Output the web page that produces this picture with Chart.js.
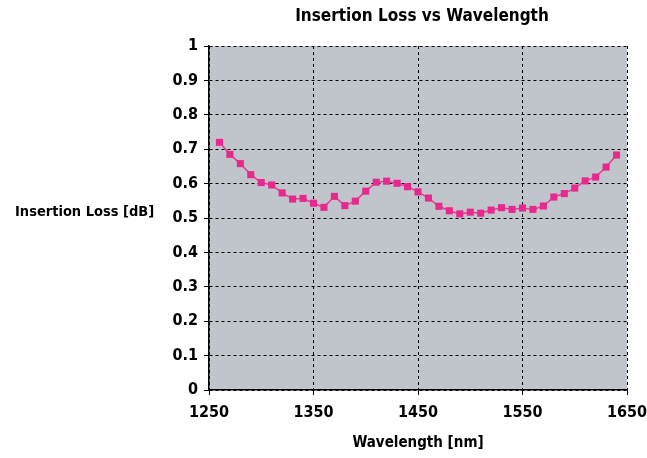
<!DOCTYPE html>
<html>
<head>
<meta charset="utf-8">
<script src="https://cdn.jsdelivr.net/npm/chart.js@4/dist/chart.umd.min.js"></script>
<style>
  html, body { margin: 0; padding: 0; background: #ffffff; }
  #wrap { width: 647px; height: 458px; position: relative; }
</style>
</head>
<body>
<div id="wrap"><canvas id="c" width="647" height="458"></canvas></div>
<script>
const chartTitle = "Insertion Loss vs Wavelength";
const xAxisTitle = "Wavelength [nm]";
const yAxisTitle = "Insertion Loss [dB]";
const wavelengths = [1260,1270,1280,1290,1300,1310,1320,1330,1340,1350,1360,1370,1380,1390,1400,1410,1420,1430,1440,1450,1460,1470,1480,1490,1500,1510,1520,1530,1540,1550,1560,1570,1580,1590,1600,1610,1620,1630,1640];
const insertionLoss = [0.720,0.685,0.658,0.626,0.603,0.596,0.573,0.555,0.557,0.543,0.531,0.563,0.536,0.549,0.578,0.604,0.607,0.601,0.591,0.576,0.558,0.534,0.521,0.512,0.517,0.514,0.523,0.530,0.525,0.529,0.525,0.535,0.561,0.571,0.587,0.608,0.619,0.648,0.683];
const xTicks = [1250,1350,1450,1550,1650];
const yTicks = [0,0.1,0.2,0.3,0.4,0.5,0.6,0.7,0.8,0.9,1];

const FONT = "'DejaVu Sans Condensed', 'Liberation Sans Narrow', sans-serif";
const points = wavelengths.map((w, i) => ({ x: w, y: insertionLoss[i] }));

const bgPlugin = {
  id: 'bg',
  beforeDraw(chart) {
    const { ctx, chartArea: a } = chart;
    ctx.save();
    ctx.fillStyle = '#c0c4cb';
    ctx.fillRect(a.left, a.top, a.right - a.left, a.bottom - a.top);
    ctx.restore();
  },
  afterDraw(chart) {
    const { ctx, chartArea: a } = chart;
    ctx.save();
    ctx.fillStyle = '#000';
    ctx.font = "bold 17px " + FONT;
    ctx.textAlign = 'center';
    ctx.textBaseline = 'middle';
    ctx.fillText(chartTitle, 422, 17);
    ctx.font = "bold 14.5px " + FONT;
    ctx.textAlign = 'left';
    ctx.fillText(yAxisTitle, 15, 212);
    ctx.restore();
  }
};

new Chart(document.getElementById('c'), {
  type: 'line',
  data: {
    datasets: [{
      data: points,
      borderColor: '#ea3a94',
      backgroundColor: '#e8288c',
      borderWidth: 1.5,
      pointStyle: 'rect',
      pointRadius: 5,
      pointBorderWidth: 0,
      pointBackgroundColor: '#e8288c',
      tension: 0
    }]
  },
  options: {
    responsive: false,
    animation: false,
    layout: { padding: { left: 155, right: 20, top: 46, bottom: 0 } },
    plugins: { legend: { display: false }, title: { display: false }, tooltip: { enabled: false } },
    scales: {
      x: {
        type: 'linear',
        min: 1250, max: 1650,
        afterBuildTicks(scale) { scale.ticks = xTicks.map(v => ({ value: v })); },
        afterFit(scale) { scale.height = 68; scale.paddingLeft = 0; scale.paddingRight = 0; },
        ticks: { color: '#000', font: { family: FONT, size: 16, weight: 'bold' }, padding: 8, maxRotation: 0,
                 callback: v => String(v) },
        grid: { color: '#000', lineWidth: 1, tickColor: '#000', tickBorderDash: [], tickLength: 5 },
        border: { display: true, color: '#000', width: 1.5, dash: [3, 3] },
        title: { display: true, text: xAxisTitle, color: '#000', font: { family: FONT, size: 15, weight: 'bold' }, padding: { top: 6, bottom: 6 } }
      },
      y: {
        min: 0, max: 1,
        afterBuildTicks(scale) { scale.ticks = yTicks.map(v => ({ value: v })); },
        afterFit(scale) { scale.width = 54; scale.paddingTop = 0; scale.paddingBottom = 0; },
        ticks: { color: '#000', font: { family: FONT, size: 16, weight: 'bold' }, padding: 6,
                 callback: v => String(v) },
        grid: { color: '#000', lineWidth: 1, tickColor: '#000', tickBorderDash: [], tickLength: 5 },
        border: { display: true, color: '#000', width: 1.5, dash: [3, 3] }
      }
    }
  },
  plugins: [bgPlugin]
});
</script>
</body>
</html>
